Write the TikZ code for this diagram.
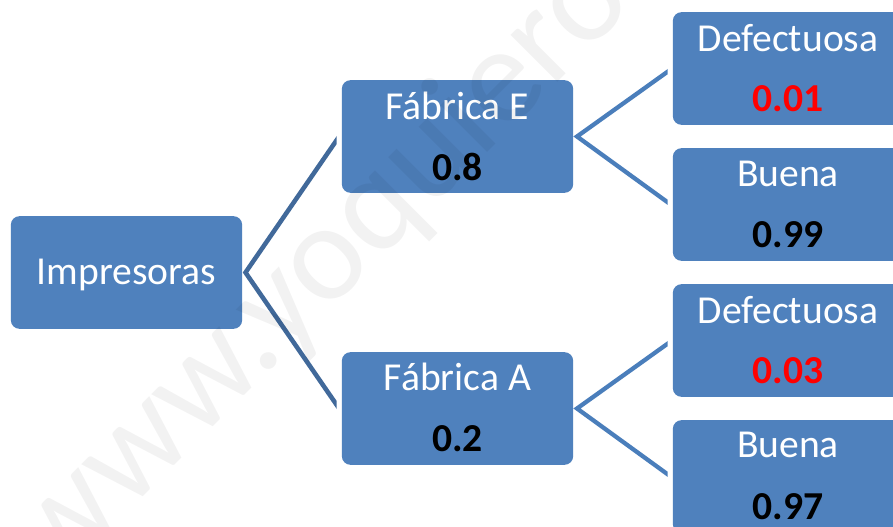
\documentclass[tikz,border=0pt]{standalone}
\usepackage{fontspec}
\setmainfont{Carlito}
\definecolor{boxblue}{HTML}{4F81BD}
\definecolor{darklink}{HTML}{41699A}
\definecolor{lightlink}{HTML}{4A7EBB}
\tikzset{
 px/.style={x=0.75pt,y=-0.75pt},
 tbox/.style={fill=boxblue,draw=none,rounded corners=6.5pt,minimum width=173.5pt,minimum height=84.5pt,inner sep=0pt},
 linkd/.style={draw=darklink,line width=3.4pt,line join=miter},
 linkl/.style={draw=lightlink,line width=3.2pt,line join=miter},
 val/.style={font=\fontsize{29.7}{34}\selectfont\bfseries,text=black},
 lab/.style={font=\fontsize{29.7}{34}\selectfont,text=white},
}
\begin{document}
\begin{tikzpicture}[px]
\useasboundingbox (0,0) rectangle (893,527);
\fill[white] (0,0) rectangle (893,527);
\node[tbox] (imp) at (126.5,272.5) {};
\node[lab] (impt) at (126.5,275) {Impresoras};
\node[tbox] (fe) at (457.5,136.5) {};
\node[lab] (fet) at (457.5,106) {Fábrica E};
\node[val] (fev) at (457.5,167) {0.8};
\node[tbox] (fa) at (457.5,408.5) {};
\node[lab] (fat) at (457.5,377) {Fábrica A};
\node[val] (fav) at (457.5,439) {0.2};
\node[tbox] (d1) at (788.5,68.5) {};
\node[lab] (d1t) at (788,38) {Defectuosa};
\node[val,text=red] (d1v) at (788,99) {0.01};
\node[tbox] (b1) at (788.5,204.5) {};
\node[lab] (b1t) at (788,174) {Buena};
\node[val] (b1v) at (788,235) {0.99};
\node[tbox] (d2) at (788.5,340.5) {};
\node[lab] (d2t) at (788,310) {Defectuosa};
\node[val,text=red] (d2v) at (788,371) {0.03};
\node[tbox] (b2) at (788.5,476.5) {};
\node[lab] (b2t) at (788,445) {Buena};
\node[val] (b2v) at (788,507) {0.97};
\coordinate (ifa) at (245.5,272.5);
\coordinate (efa) at (577,136.5);
\coordinate (afa) at (577,408.5);
\coordinate (fei) at (339,136.7);
\coordinate (fai) at (339,408.3);
\coordinate (d1i) at (670,70);
\coordinate (b1i) at (670,204);
\coordinate (d2i) at (670,342);
\coordinate (b2i) at (670,476);
\begin{scope}
\clip (0,0) rectangle (336.5,527);
\draw[linkd] (fei) -- (ifa) -- (fai);
\end{scope}
\begin{scope}
\clip (400,0) rectangle (667.5,527);
\draw[linkl] (d1i) -- (efa) -- (b1i);
\draw[linkl] (d2i) -- (afa) -- (b2i);
\end{scope}
\node[rotate=45,text=black,text opacity=0.05,font=\fontsize{104}{110}\selectfont,anchor=base,inner sep=0pt] (wmark) at (346.5,293.5) {www.yoquiero};
\end{tikzpicture}
\end{document}
